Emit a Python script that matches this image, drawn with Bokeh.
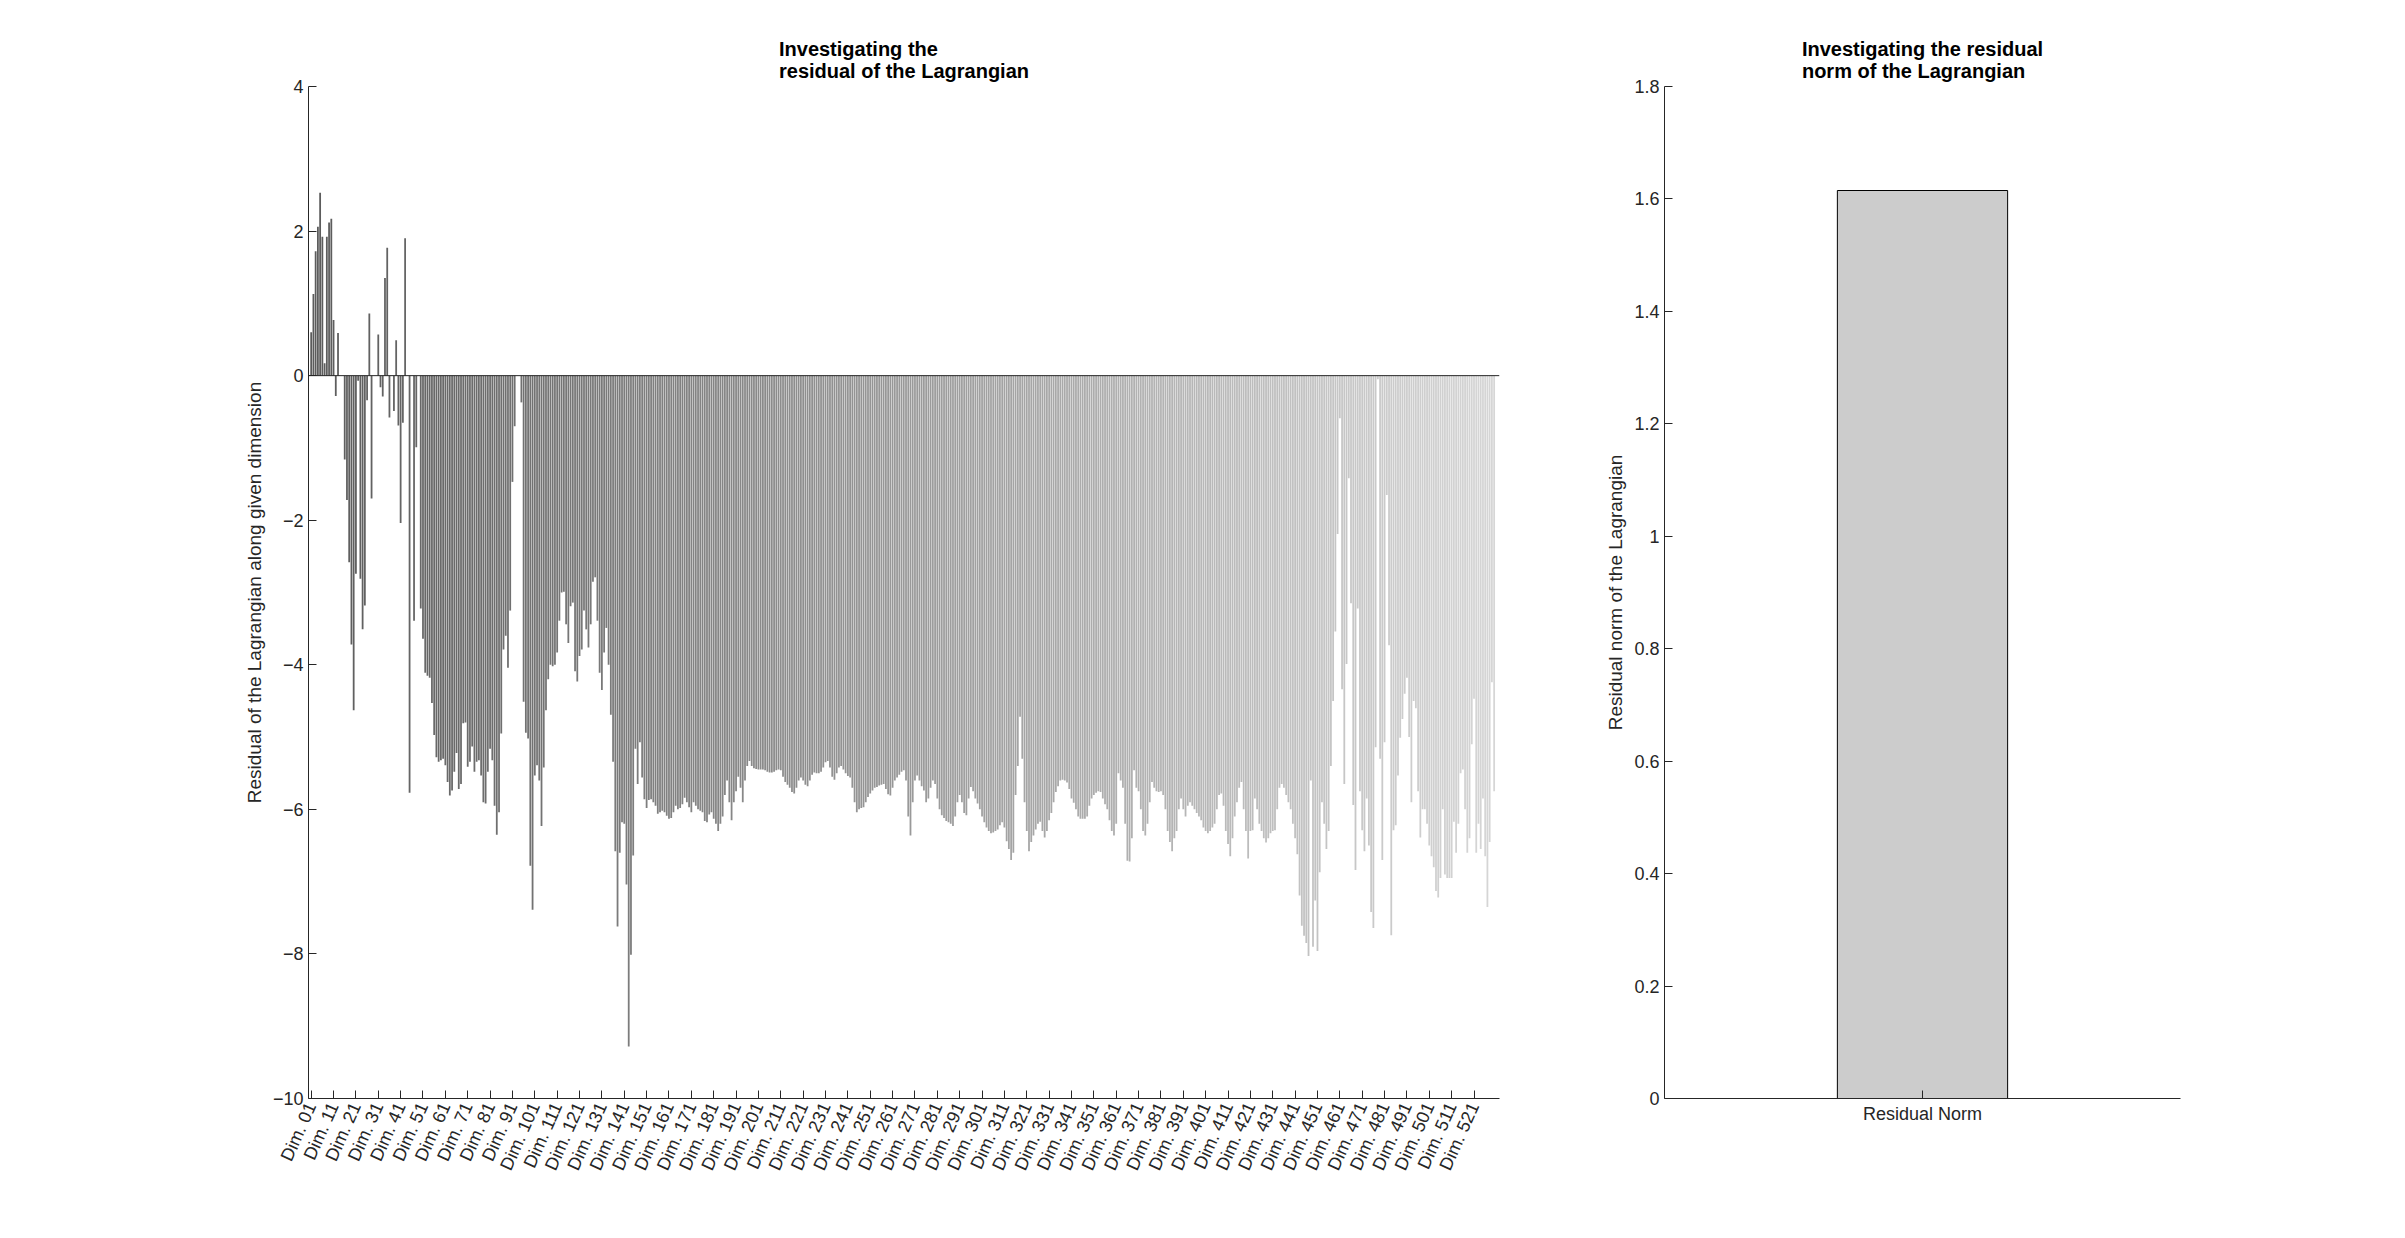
import numpy as np
from bokeh.plotting import figure
from bokeh.layouts import row
from bokeh.models import FixedTicker, Label, Span
from bokeh.embed import file_html
from bokeh.resources import INLINE

# residual per dimension, in units of 1e-5
res_a = [0.6, 1.13, 1.72, 2.06, 2.53, 1.92, 0.17, 1.92, 2.12, 2.17,
         0.77, -0.28, 0.59, 0, 0, -1.16, -1.72, -2.58, -3.72, -4.63,
         -2.74, -0.07, -2.81, -3.51, -3.18, -0.34, 0.86, -1.7, 0, 0,
         0.57, -0.16, -0.29, 1.35, 1.77, -0.58, 0, -0.49, 0.49, -0.69,
         -2.04, -0.65, 1.9, 0, -5.77, 0, -3.39, -0.99, 0, -3.22,
         -3.64, -4.11, -4.15, -4.18, -4.53, -4.97, -5.28, -5.34, -5.32, -5.3,
         -5.39, -5.62, -5.81, -5.74, -5.48, -5.22, -5.72, -5.65, -4.81, -4.8,
         -5.41, -5.34, -5.13, -5.48, -5.34, -5.32, -5.53, -5.9, -5.92, -5.48,
         -5.16, -5.32, -5.95, -6.35, -6.04, -4.95, -3.79, -3.6, -4.04, -3.25,
         -1.47, -0.7, 0, 0, -0.37, -4.51, -4.94, -5.02, -6.78, -7.39,
         -5.53, -5.39, -5.6, -6.23, -5.42, -4.63, -4.2, -4.0, -4.02, -4.0,
         -3.83, -3.39, -3.0, -2.99, -3.44, -3.7, -3.19, -3.14, -4.09, -4.23,
         -3.88, -3.79, -3.25, -3.51, -3.76, -3.44, -2.85, -2.79, -3.39, -4.11,
         -4.35, -3.83, -3.49, -4.0, -4.69, -5.34, -6.58, -7.62, -6.6, -6.18,
         -6.2, -7.04, -9.28, -8.01, -6.64, -5.16, -5.65, -5.07, -5.56, -5.86,
         -5.98, -5.87, -5.86, -5.9, -5.95, -6.06, -6.04, -6.02, -6.04, -6.09,
         -6.13, -6.12, -6.04, -5.95, -6.0, -5.98, -5.93, -5.84, -5.9, -5.97,
         -6.04, -5.9, -5.95, -6.0, -6.02, -6.04, -6.16, -6.18, -6.07, -6.04,
         -6.13, -6.2]
res_b = [-6.3, -6.2, -6.1, -5.8, -5.6, -5.9, -6.15, -5.9, -5.75, -5.55,
         -5.7, -5.9, -5.6, -5.4, -5.33, -5.4, -5.43, -5.44, -5.45, -5.45,
         -5.45, -5.46, -5.48, -5.49, -5.49, -5.48, -5.46, -5.45, -5.46, -5.55,
         -5.62, -5.66, -5.7, -5.76, -5.78, -5.7, -5.6, -5.56, -5.6, -5.66,
         -5.68, -5.6, -5.52, -5.49, -5.5, -5.5, -5.48, -5.42, -5.35, -5.33,
         -5.42, -5.55, -5.59, -5.5, -5.42, -5.4, -5.45, -5.5, -5.54, -5.56,
         -5.7, -5.9, -6.04, -6.0, -5.98, -5.97, -5.9, -5.83, -5.78, -5.74,
         -5.7, -5.69, -5.67, -5.66, -5.65, -5.72, -5.79, -5.81, -5.7, -5.6,
         -5.56, -5.52, -5.48, -5.46, -5.6, -6.1, -6.36, -5.9, -5.6, -5.53,
         -5.6, -5.68, -5.74, -5.9, -5.85, -5.7, -5.6, -5.65, -5.85, -6.0,
         -6.08, -6.12, -6.16, -6.18, -6.2, -6.23, -6.1, -5.9, -5.8, -5.9,
         -6.05, -6.08, -5.85, -5.69, -5.75, -5.85, -5.92, -6.0, -6.1, -6.18,
         -6.25, -6.3, -6.33, -6.32, -6.3, -6.28, -6.22, -6.18, -6.25, -6.44,
         -6.55, -6.7, -6.6, -5.8, -5.4, -4.72, -5.3, -5.9, -6.3, -6.58,
         -6.45, -6.36, -6.28, -6.2, -6.17, -6.3, -6.39, -6.3, -6.15, -6.05,
         -5.9, -5.76, -5.68, -5.6, -5.59, -5.6, -5.63, -5.72, -5.85, -5.91,
         -6.0, -6.1, -6.13, -6.13, -6.13, -6.1, -5.95, -5.85, -5.8, -5.77,
         -5.75, -5.76, -5.85, -5.93, -6.0, -6.15, -6.3, -6.36]
res_c = [-6.2, -5.5, -5.6, -5.7, -6.2, -6.71, -6.72, -6.4, -5.46, -5.7,
         -5.75, -6.0, -6.3, -6.36, -6.2, -5.9, -5.62, -5.7, -5.75, -5.76,
         -5.75, -5.8, -6.0, -6.3, -6.45, -6.58, -6.4, -6.3, -6.0, -5.85,
         -6.0, -6.1, -5.95, -5.9, -5.95, -6.0, -6.05, -6.1, -6.15, -6.25,
         -6.3, -6.33, -6.3, -6.25, -6.2, -6.0, -5.8, -5.78, -5.95, -6.3,
         -6.48, -6.65, -6.4, -6.1, -5.9, -5.7, -5.62, -6.0, -6.3, -6.68,
         -6.3, -6.29, -5.85, -6.0, -6.2, -6.3, -6.4, -6.46, -6.4, -6.33,
         -6.3, -6.29, -6.0, -5.7, -5.65, -5.7, -5.8, -5.9, -6.0, -6.2,
         -6.4, -6.62, -7.19, -7.61, -7.75, -7.85, -8.03, -5.6, -7.9, -7.26,
         -7.96, -6.87, -5.9, -6.2, -6.55, -6.3, -5.4, -4.5, -3.54, -2.19,
         -0.59, -4.34, -5.65, -3.99, -1.42, -3.15, -5.94, -6.84, -3.22, -5.75,
         -6.29, -6.58, -5.85, -6.5, -7.42, -7.64, -5.14, -0.05, -5.3, -6.7,
         -5.07, -1.65, -3.73, -7.74, -6.29, -6.22, -5.53, -5.01, -4.75, -4.4,
         -4.18, -5.0, -5.9, -4.5, -4.6, -5.75, -6.39, -6.0, -6.0, -6.2,
         -6.5, -6.65, -6.8, -7.13, -7.22, -6.95, -6.0, -6.9, -6.95, -6.95,
         -6.95, -6.17, -6.6, -6.2, -5.5, -5.45, -6.0, -6.6, -6.4, -5.1,
         -4.47, -6.6, -6.2, -6.55, -5.85, -6.65, -7.35, -6.45, -4.24, -5.75]
residuals = res_a + res_b + res_c
dims = list(range(1, len(residuals) + 1))
tick_dims = list(range(1, len(residuals) + 1, 10))
tick_labels = {d: "Dim. %02d" % d for d in tick_dims}
y_ticks_left = [-10, -8, -6, -4, -2, 0, 2, 4]

norm_labels = ["Residual Norm"]
norm_values = [1.615]  # units of 1e-6
y_ticks_right = [0, 0.2, 0.4, 0.6, 0.8, 1.0, 1.2, 1.4, 1.6, 1.8]

FONT = "Liberation Sans"
n = len(residuals)
shade = np.linspace(0.36, 0.84, n)
colors = ["#" + ("%02x" % int(s * 255)) * 3 for s in shade]


def style(p):
    p.toolbar_location = None
    p.outline_line_color = None
    p.xgrid.visible = False
    p.ygrid.visible = False
    for ax in (p.xaxis[0], p.yaxis[0]):
        ax.axis_line_color = "#262626"
        ax.major_tick_line_color = "#262626"
        ax.major_tick_in = 8
        ax.major_tick_out = 0
        ax.minor_tick_line_color = None
        ax.major_label_text_font = FONT
        ax.major_label_text_font_size = "18px"
        ax.major_label_text_color = "#262626"
        ax.axis_label_text_font = FONT
        ax.axis_label_text_font_size = "19px"
        ax.axis_label_text_font_style = "normal"
        ax.axis_label_text_color = "#262626"
    p.title.text_font = FONT
    p.title.text_font_size = "20px"
    p.title.align = "center"
    p.title.text_color = "#000000"


p1 = figure(frame_width=1191, frame_height=1012, x_range=(-0.2, n + 2.4),
            y_range=(-10, 4), output_backend="svg", toolbar_location=None,
            min_border_left=308, min_border_right=70, min_border_top=86,
            min_border_bottom=125,
            title="Investigating the\nresidual of the Lagrangian")
style(p1)
p1.vbar(x=dims, top=residuals, bottom=0, width=0.8, fill_color=colors, line_color=None)
p1.add_layout(Span(location=0, dimension="width", line_color="#262626", line_width=1))
p1.xaxis.ticker = FixedTicker(ticks=tick_dims)
p1.xaxis.major_label_overrides = tick_labels
p1.xaxis.major_label_orientation = 1.15
p1.yaxis.ticker = FixedTicker(ticks=y_ticks_left)
p1.yaxis.axis_label = "Residual of the Lagrangian along given dimension"
p1.add_layout(Label(x=-0.2, y=4, x_offset=2, y_offset=4, text="\u00d710", text_font=FONT,
                    text_font_size="17px", text_color="#262626"))
p1.add_layout(Label(x=-0.2, y=4, x_offset=31, y_offset=16, text="-5", text_font=FONT,
                    text_font_size="13px", text_color="#262626"))

p2 = figure(frame_width=516, frame_height=1012, x_range=(0.5, 1.5), y_range=(0, 1.8),
            output_backend="svg", toolbar_location=None,
            min_border_left=95, min_border_right=180, min_border_top=86,
            min_border_bottom=125,
            title="Investigating the residual\nnorm of the Lagrangian")
style(p2)
p2.vbar(x=[1], top=norm_values, width=0.33, fill_color="#cccccc", line_color="#000000")
p2.xaxis.ticker = FixedTicker(ticks=[1])
p2.xaxis.major_label_overrides = {1: norm_labels[0]}
p2.yaxis.ticker = FixedTicker(ticks=y_ticks_right)
p2.yaxis.major_label_overrides = {0: "0", 1.0: "1"}
p2.yaxis.axis_label = "Residual norm of the Lagrangian"
p2.add_layout(Label(x=0.5, y=1.8, x_offset=2, y_offset=4, text="\u00d710", text_font=FONT,
                    text_font_size="17px", text_color="#262626"))
p2.add_layout(Label(x=0.5, y=1.8, x_offset=31, y_offset=16, text="-6", text_font=FONT,
                    text_font_size="13px", text_color="#262626"))

layout = row(p1, p2)
open("out.html", "w").write(file_html(layout, INLINE))
